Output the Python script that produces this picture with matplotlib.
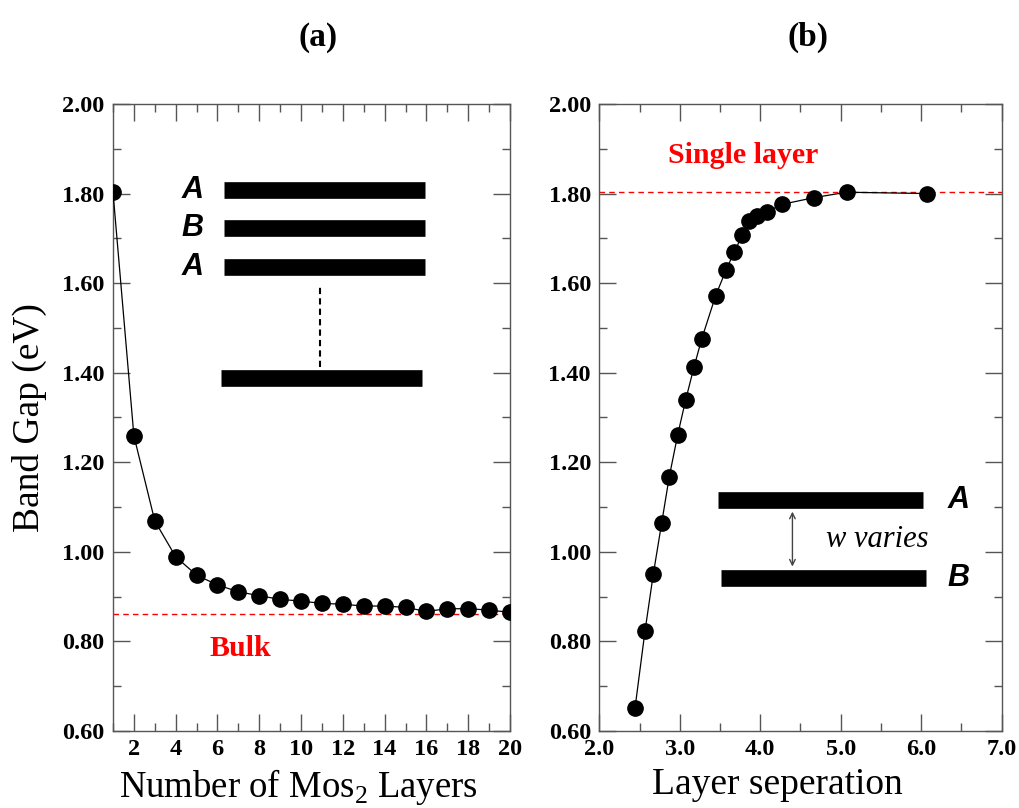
import numpy as np
import matplotlib.pyplot as plt
from matplotlib.ticker import MultipleLocator, FormatStrFormatter

# (a) band gap vs. number of MoS2 layers
n_layers = [1, 2, 3, 4, 5, 6, 7, 8, 9, 10, 11, 12, 13, 14, 15, 16, 17, 18, 19, 20]
gap_layers = [1.803, 1.259, 1.069, 0.989, 0.948, 0.926, 0.911, 0.902, 0.894, 0.890,
              0.885, 0.883, 0.879, 0.879, 0.876, 0.867, 0.873, 0.873, 0.870, 0.865]
bulk_gap = 0.861

# (b) band gap vs. layer separation
separation = [2.444, 2.568, 2.671, 2.775, 2.870, 2.974, 3.073, 3.176, 3.272, 3.446,
              3.574, 3.677, 3.776, 3.863, 3.963, 4.079, 4.273, 4.671, 5.073, 6.075]
gap_sep = [0.651, 0.823, 0.950, 1.064, 1.168, 1.261, 1.339, 1.412, 1.475, 1.572,
           1.629, 1.669, 1.707, 1.739, 1.750, 1.759, 1.776, 1.791, 1.803, 1.800]
single_gap = 1.803

SERIF = ['Liberation Serif', 'DejaVu Serif']
SANS = ['Liberation Sans', 'DejaVu Sans']
plt.rcParams['font.family'] = SERIF
plt.rcParams['mathtext.fontset'] = 'custom'
plt.rcParams['mathtext.rm'] = 'Liberation Serif'

fig = plt.figure(figsize=(10.19, 8.08), dpi=100)
ax1 = fig.add_axes([0.1109, 0.0953, 0.3896, 0.776])
ax2 = fig.add_axes([0.5881, 0.0953, 0.3949, 0.776])

spine_col = '#555555'


def style_axes(ax):
    for s in ax.spines.values():
        s.set_color(spine_col)
        s.set_linewidth(1.0)
    ax.tick_params(which='both', direction='in', top=True, right=True,
                   color=spine_col, width=1.0)
    ax.tick_params(which='major', length=12, labelsize=17.5, pad=6)
    ax.tick_params(which='minor', length=6)
    for lab in ax.get_xticklabels() + ax.get_yticklabels():
        lab.set_fontweight('bold')
    ax.set_ylim(0.6, 2.0)
    ax.yaxis.set_major_locator(MultipleLocator(0.2))
    ax.yaxis.set_minor_locator(MultipleLocator(0.1))
    ax.yaxis.set_major_formatter(FormatStrFormatter('%.2f'))


# ---- panel (a)
ax1.plot(n_layers, gap_layers, color='black', lw=0.9, marker='o', ms=11, zorder=3)
ax1.axhline(bulk_gap, color='red', ls='--', lw=1.0, dashes=(4, 3))
ax1.text(7.1, 0.785, 'Bulk', color='red', fontsize=21.5, fontweight='bold',
         ha='center', va='center')
ax1.set_xlim(1, 20)
ax1.xaxis.set_major_locator(MultipleLocator(2))
ax1.xaxis.set_minor_locator(MultipleLocator(1))
ax1.set_xlabel(r'Number of Mos$_2$ Layers', fontsize=26.5)
ax1.xaxis.set_label_coords(0.466, -0.058)
ax1.set_ylabel('Band Gap (eV)', fontsize=27)
ax1.yaxis.set_label_coords(-0.167, 0.5)
style_axes(ax1)

# stacking schematic
for y in [1.808, 1.722, 1.635]:
    ax1.hlines(y, 6.29, 15.91, color='black', lw=12, capstyle='butt')
ax1.hlines(1.388, 6.19, 15.80, color='black', lw=12, capstyle='butt')
ax1.vlines(10.89, 1.413, 1.592, color='black', lw=1.5, linestyles=(0, (3, 2)))
for y, lab in zip([1.808, 1.722, 1.635], ['A', 'B', 'A']):
    ax1.text(4.8, y, lab, family=SANS, fontsize=22, fontweight='bold',
             fontstyle='italic', ha='center', va='center')

# ---- panel (b)
ax2.plot(separation, gap_sep, color='black', lw=0.9, marker='o', ms=11, zorder=3)
ax2.axhline(single_gap, color='red', ls='--', lw=1.0, dashes=(4, 3))
ax2.text(3.79, 1.886, 'Single layer', color='red', fontsize=21.5, fontweight='bold',
         ha='center', va='center')
ax2.set_xlim(2, 7)
ax2.xaxis.set_major_locator(MultipleLocator(1))
ax2.xaxis.set_minor_locator(MultipleLocator(0.5))
ax2.xaxis.set_major_formatter(FormatStrFormatter('%.1f'))
ax2.set_xlabel('Layer seperation', fontsize=27)
ax2.xaxis.set_label_coords(0.4416, -0.058)
style_axes(ax2)

ax2.hlines(1.116, 3.478, 6.017, color='black', lw=12, capstyle='butt')
ax2.hlines(0.942, 3.508, 6.054, color='black', lw=12, capstyle='butt')
ax2.annotate('', xy=(4.40, 0.961), xytext=(4.40, 1.096),
             arrowprops=dict(arrowstyle='<->', color='#444444', lw=1.0))
ax2.text(5.45, 1.028, 'w varies', fontsize=22, fontstyle='italic',
         ha='center', va='center')
ax2.text(6.46, 1.116, 'A', family=SANS, fontsize=22, fontweight='bold',
         fontstyle='italic', ha='center', va='center')
ax2.text(6.46, 0.942, 'B', family=SANS, fontsize=22, fontweight='bold',
         fontstyle='italic', ha='center', va='center')

fig.text(0.312, 0.954, '(a)', fontsize=24, fontweight='bold', ha='center', va='center')
fig.text(0.793, 0.954, '(b)', fontsize=24, fontweight='bold', ha='center', va='center')

fig.savefig('out.png', dpi=100)
